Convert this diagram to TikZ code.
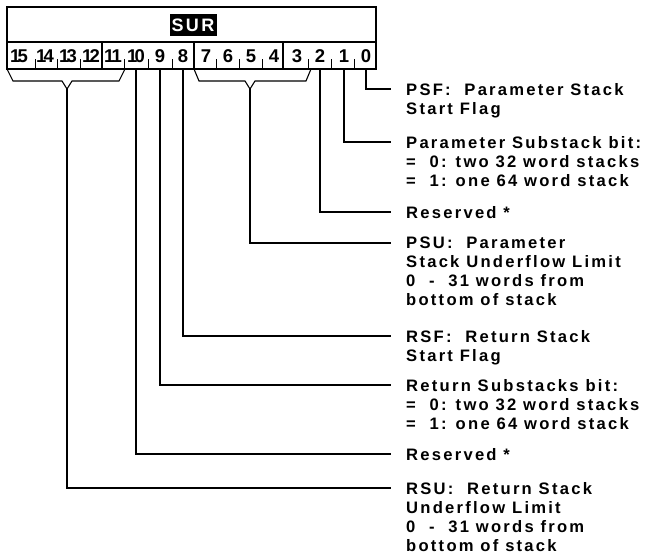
\documentclass[tikz,border=0pt]{standalone}
\usepackage{fontspec}
\setmainfont{Liberation Sans}
\newfontfamily\lblfamily[LetterSpace=13.5]{Liberation Sans}
\newfontfamily\bitfamily{Liberation Sans}
\newcommand{\lblfont}{\lblfamily\bfseries\fontsize{16.6}{19}\selectfont}
\newcommand{\bitfont}{\bitfamily\bfseries\fontsize{18.5}{19}\selectfont}
\newcommand{\surfont}{\lblfamily\bfseries\fontsize{18}{19}\selectfont}
\newcommand{\twodig}[2]{#1\kern-2.6pt#2}
\begin{document}
\begin{tikzpicture}[x=1pt,y=-1pt,
  reg/.style={line width=1.2pt},
  conn/.style={line width=1.1pt, line join=miter},
  bitnum/.style={inner sep=0pt, minimum width=18pt, minimum height=27pt, font=\bitfont},
  lbl/.style={anchor=north west, inner sep=0pt, align=left, font=\lblfont},
  surbox/.style={fill=black, text=white, minimum width=47pt, minimum height=22pt, inner sep=0pt, font=\surfont}]
\useasboundingbox (0,0) rectangle (647,554);
% register
\draw[reg] (7,7) rectangle (376,69);
\draw[reg] (7,42) -- (376,42);
\node[surbox] (sur) at (193,25) {SUR};
\foreach \x in {102,194,283} \draw[reg] (\x,42) -- (\x,69);
\foreach \x in {35,57,80,124,148,172,216,239,262,308,331,354} \draw[line width=0.9pt] (\x,59) -- (\x,69);
\foreach \i/\x/\lab in {15/19/{\twodig15},14/45/{\twodig14},13/68/{\twodig13},12/91/{\twodig12},11/113/{\twodig11},10/136/{\twodig10},9/160/9,8/183/8,7/206/7,6/228/6,5/251/5,4/274/4,3/297/3,2/320/2,1/344/1,0/366/0}
  \node[bitnum] (b\i) at (\x,56) {\lab};
% connector ends
\coordinate (e0) at (391,89);
\coordinate (e1) at (391,142);
\coordinate (e2) at (391,212);
\coordinate (e3) at (391,243);
\coordinate (e4) at (391,336);
\coordinate (e5) at (391,385);
\coordinate (e6) at (391,454);
\coordinate (e7) at (391,488);
% brackets
\draw[conn] (194,69) -- (199,81) -- (245,81) -- (250,89) -- (255,81) -- (306,81) -- (311,69);
\coordinate (psu) at (250,89);
\draw[conn] (7,69) -- (13,81) -- (62,81) -- (67,89) -- (72,81) -- (119,81) -- (125,69);
\coordinate (rsu) at (67,89);
% connectors
\draw[conn] (b0.south) |- (e0);
\draw[conn] (b1.south) |- (e1);
\draw[conn] (b2.south) |- (e2);
\draw[conn] (psu) |- (e3);
\draw[conn] (b8.south) |- (e4);
\draw[conn] (b9.south) |- (e5);
\draw[conn] (b10.south) |- (e6);
\draw[conn] (rsu) |- (e7);
% labels
\node[lbl] (psf) at (406,83) {PSF:\ \ Parameter Stack\\Start Flag};
\node[lbl] (psb) at (406,136) {Parameter Substack bit:\\=\ \ 0: two 32 word stacks\\=\ \ 1: one 64 word stack};
\node[lbl] (res1) at (406,206) {Reserved *};
\node[lbl] (psul) at (406,237) {PSU:\ \ Parameter\\Stack Underflow Limit\\0\ \ -\ \ 31 words from\\bottom of stack};
\node[lbl] (rsf) at (406,330) {RSF:\ \ Return Stack\\Start Flag};
\node[lbl] (rsb) at (406,379) {Return Substacks bit:\\=\ \ 0: two 32 word stacks\\=\ \ 1: one 64 word stack};
\node[lbl] (res2) at (406,448) {Reserved *};
\node[lbl] (rsul) at (406,482) {RSU:\ \ Return Stack\\Underflow Limit\\0\ \ -\ \ 31 words from\\bottom of stack};
\end{tikzpicture}
\end{document}
